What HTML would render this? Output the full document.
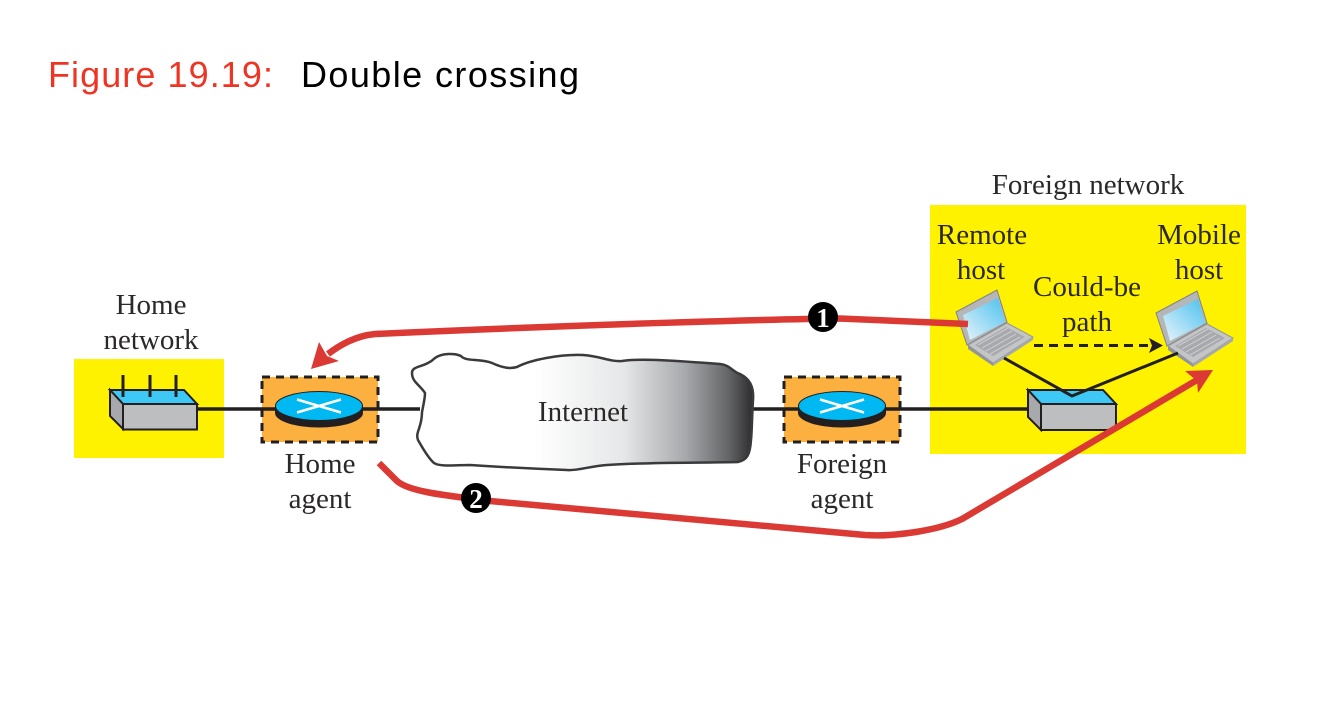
<!DOCTYPE html>
<html><head><meta charset="utf-8"><style>
html,body{margin:0;padding:0;background:#fff;width:1332px;height:702px;overflow:hidden}
svg{display:block}
.t{font-family:"Liberation Serif",serif;font-size:29px;fill:#2b2829;text-anchor:middle}
.h{font-family:"Liberation Sans",sans-serif;font-size:36px}
</style></head><body>
<svg width="1332" height="702" viewBox="0 0 1332 702" xmlns="http://www.w3.org/2000/svg">
<defs>
<linearGradient id="cg" x1="0" x2="1" y1="0" y2="0">
<stop offset="0" stop-color="#fff"/><stop offset="0.36" stop-color="#fff"/><stop offset="0.62" stop-color="#e6e7e8"/><stop offset="0.8" stop-color="#a7a9ac"/><stop offset="0.93" stop-color="#636466"/><stop offset="1" stop-color="#2b2b2d"/>
</linearGradient>
<linearGradient id="sg" x1="0" x2="1" y1="1" y2="0"><stop offset="0" stop-color="#e8f4fb"/><stop offset="1" stop-color="#4cc1ee"/></linearGradient>
<g id="laptop">
<polygon points="956,312 997,290 1007,322 967,345" fill="#b5b6b8" stroke="#808285" stroke-width="1"/>
<polygon points="963,315 998,298 1005,322 970,340" fill="url(#sg)"/>
<polygon points="968,345 1007,323 1033,337 993,363" fill="#c4c5c7" stroke="#939598" stroke-width="1"/>
<polygon points="975,345 1006,327 1025,337 993,356" fill="#a7a9ac"/>
<path d="M978,345L1008,328M982,348L1012,331M986,351L1016,334M990,354L1020,337" stroke="#d1d2d4" stroke-width="1"/>
<polygon points="968,345 993,363 993,366 968,349" fill="#939598"/>
<polygon points="993,363 1033,337 1033,340 993,366" fill="#a7a9ac"/>
</g>
<g id="router">
<path d="M-44,0 V7 A44,14.5 0 0 0 44,7 V0 Z" fill="#231f20"/>
<ellipse cx="0" cy="0" rx="43.500" ry="14.500" fill="#00b9f2" stroke="#231f20" stroke-width="1"/>
<path d="M-22,-6.500 L22,6.500 M-22,6.500 L22,-6.500" stroke="#fff" stroke-width="2.500"/>
</g>
</defs>

<text class="h" x="48" y="87" fill="#ee3524" textLength="225" lengthAdjust="spacing">Figure 19.19:</text>
<text class="h" x="301" y="87" fill="#000" textLength="278" lengthAdjust="spacing">Double crossing</text>

<rect x="74" y="359" width="150" height="99" fill="#fff200"/>
<rect x="930" y="205" width="316" height="249" fill="#fff200"/>

<rect x="262" y="377" width="116" height="65" fill="#fbb040" stroke="#231f20" stroke-width="3" stroke-dasharray="8 6"/>
<rect x="784" y="377" width="116" height="65" fill="#fbb040" stroke="#231f20" stroke-width="3" stroke-dasharray="8 6"/>

<path d="M197,409H420M752,409H1030" stroke="#231f20" stroke-width="3.500" fill="none"/>

<use href="#router" x="319" y="406"/>
<use href="#router" x="842" y="406"/>

<polygon points="110,390 184,390 197,404 123,404" fill="#3dc8f5" stroke="#231f20" stroke-width="2"/>
<polygon points="110,390 123,404 123,429 110,416" fill="#a7a9ac" stroke="#231f20" stroke-width="2"/>
<rect x="123" y="404" width="74" height="25.500" fill="#bcbec0" stroke="#231f20" stroke-width="2"/>
<path d="M123,375V397M150,375V397M176,375V397" stroke="#231f20" stroke-width="3"/>

<polygon points="1028,390 1103,390 1116,404 1041,404" fill="#3dc8f5" stroke="#231f20" stroke-width="2"/>
<polygon points="1028,390 1041,404 1041,430 1028,417" fill="#a7a9ac" stroke="#231f20" stroke-width="2"/>
<rect x="1041" y="404" width="75" height="26" fill="#bcbec0" stroke="#231f20" stroke-width="2"/>

<path d="M412,373C412,365 425,368 435,358C442,353 455,353 461,356C466,362 480,358 492,363C503,368 510,369 517,367C530,360 560,354 583,355C600,356 610,362 622,361C640,358 680,361 720,364C730,365 733,372 740,374C750,379 754,387 753,400C752,415 752,430 751,440C750,455 747,460 738,462C700,463 650,462 607,465C590,466 578,471 567,470C540,469 500,467 470,465C455,465 440,467 434,463C428,458 422,447 418,440C415,432 422,428 422,412C424,402 425,398 425,393C420,385 412,382 412,373Z" fill="url(#cg)" stroke="#3a3a3c" stroke-width="2.500"/>

<use href="#laptop"/>
<use href="#laptop" x="200" y="1"/>

<path d="M1004,358L1072,396L1178,353" fill="none" stroke="#231f20" stroke-width="3"/>
<path d="M1034,345.500H1153" stroke="#231f20" stroke-width="3" stroke-dasharray="9 6" fill="none"/>
<polygon points="1163,345.500 1149,338 1152,345.500 1149,353" fill="#231f20"/>

<path d="M968,324L840,318.500C780,319 600,324 375,334C355,336 340,345 328,354" fill="none" stroke="#db3a34" stroke-width="6.500"/>
<polygon points="311,369 319,342 327,356 339,361" fill="#db3a34"/>

<path d="M379,463L397,481C408,491 440,495 490,501L865,535C895,537 940,530 962,519L1197,380" fill="none" stroke="#db3a34" stroke-width="6.500"/>
<polygon points="1213,370 1185,371 1197,381 1198,393" fill="#db3a34"/>

<circle cx="823" cy="317" r="15" fill="#000"/>
<text x="823" y="327" font-family="Liberation Serif,serif" font-weight="bold" font-size="27" fill="#fff" text-anchor="middle">1</text>
<circle cx="476" cy="498" r="15" fill="#000"/>
<text x="476" y="508" font-family="Liberation Serif,serif" font-weight="bold" font-size="27" fill="#fff" text-anchor="middle">2</text>

<text class="t" x="151" y="314">Home</text>
<text class="t" x="151" y="349">network</text>
<text class="t" x="320" y="473">Home</text>
<text class="t" x="320" y="508">agent</text>
<text class="t" x="583" y="421">Internet</text>
<text class="t" x="842" y="473">Foreign</text>
<text class="t" x="842" y="508">agent</text>
<text class="t" x="1088" y="194">Foreign network</text>
<text class="t" x="982" y="244">Remote</text>
<text class="t" x="981" y="279">host</text>
<text class="t" x="1199" y="244">Mobile</text>
<text class="t" x="1199" y="279">host</text>
<text class="t" x="1087" y="296">Could-be</text>
<text class="t" x="1087" y="331">path</text>
</svg>
</body></html>
